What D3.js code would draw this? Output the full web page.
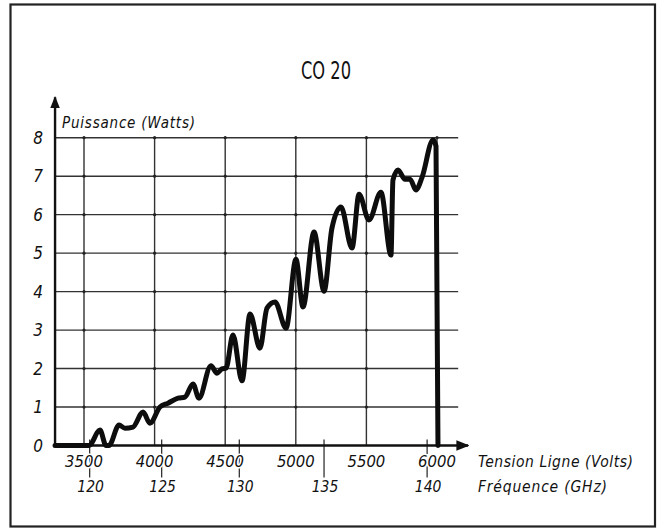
<!DOCTYPE html>
<html>
<head>
<meta charset="utf-8">
<script src="https://cdn.jsdelivr.net/npm/d3@7"></script>
<style>
  body { margin: 0; background: #fff; }
  text { font-family: "DejaVu Sans Condensed", "DejaVu Sans", "Liberation Sans", sans-serif; fill: #111; }
  .lab { font-style: italic; }
</style>
</head>
<body>
<script>
const w = 664;
const h = 530;

// data
const title = "CO 20";
const voltTicks = [3500, 4000, 4500, 5000, 5500, 6000];
const powerTicks = [0, 1, 2, 3, 4, 5, 6, 7, 8];
const freqLabels = [120, 125, 130, 135, 140];
const freqVolts = [3540, 4050, 4600, 5200, 5930]; // where each frequency sits on the volts axis
const curveVolts = [3295, 3535, 3613, 3656, 3677, 3748, 3790, 3847, 3918, 3967,
  4038, 4095, 4166, 4215, 4272, 4314, 4399, 4442, 4477, 4506,
  4555, 4619, 4676, 4746, 4796, 4853, 4931, 5001, 5051, 5129,
  5200, 5256, 5320, 5398, 5448, 5518, 5603, 5674, 5688, 5724,
  5773, 5809, 5851, 5894, 5972, 5993, 6007];
const curvePower = [0, 0, 0.40, 0, 0, 0.53, 0.45, 0.48, 0.87, 0.58,
  1.0, 1.1, 1.23, 1.26, 1.6, 1.23, 2.07, 1.88, 1.99, 2.01,
  2.87, 1.68, 3.42, 2.53, 3.57, 3.73, 3.05, 4.84, 3.6, 5.55,
  4.01, 5.65, 6.2, 5.13, 6.53, 5.86, 6.58, 4.95, 6.9, 7.16,
  6.92, 6.92, 6.64, 6.97, 7.94, 7.78, 0];

const svg = d3
  .select("body")
  .append("svg")
  .attr("width", w)
  .attr("height", h);

// frame
svg
  .append("rect")
  .attr("x", 10.5)
  .attr("y", 4.5)
  .attr("width", 644.5)
  .attr("height", 522)
  .attr("fill", "none")
  .attr("stroke", "#222")
  .attr("stroke-width", 2.2);

const x = d3.scaleLinear().domain([3500, 6000]).range([84, 437]);
const y = d3.scaleLinear().domain([0, 8]).range([445.5, 137.7]);
const xStart = 3295;
const xGridEnd = 6150;
const xArrowEnd = 6220;
const yArrowEnd = 9.05;

// grid
const grid = svg.append("g").attr("stroke", "#333").attr("stroke-width", 1.4);
grid
  .selectAll("line.h")
  .data(powerTicks.slice(1))
  .enter()
  .append("line")
  .attr("x1", x(xStart))
  .attr("x2", x(xGridEnd))
  .attr("y1", (d) => y(d))
  .attr("y2", (d) => y(d));
grid
  .selectAll("line.v")
  .data(voltTicks)
  .enter()
  .append("line")
  .attr("x1", (d) => x(d))
  .attr("x2", (d) => x(d))
  .attr("y1", y(0))
  .attr("y2", y(8));

// little dots where grid lines cross
const crossings = [];
voltTicks.forEach((v) => powerTicks.slice(1).forEach((p) => crossings.push([v, p])));
svg
  .append("g")
  .selectAll("circle")
  .data(crossings)
  .enter()
  .append("circle")
  .attr("cx", (d) => x(d[0]))
  .attr("cy", (d) => y(d[1]))
  .attr("r", 1.6)
  .attr("fill", "#222");

// frequency ticks
svg
  .append("g")
  .selectAll("line")
  .data(freqVolts)
  .enter()
  .append("line")
  .attr("x1", (d) => x(d))
  .attr("x2", (d) => x(d))
  .attr("y1", y(0) - 6)
  .attr("y2", y(0) + 32)
  .attr("stroke", "#333")
  .attr("stroke-width", 1.3);

// axes with arrows
svg
  .append("defs")
  .append("marker")
  .attr("id", "arrow")
  .attr("viewBox", "0 0 10 10")
  .attr("refX", 9)
  .attr("refY", 5)
  .attr("markerWidth", 5)
  .attr("markerHeight", 5)
  .attr("markerUnits", "strokeWidth")
  .attr("orient", "auto")
  .append("path")
  .attr("d", "M0,1 L10,5 L0,9 Z")
  .attr("fill", "#111");

svg
  .append("line")
  .attr("x1", x(xStart))
  .attr("x2", x(xArrowEnd))
  .attr("y1", y(0))
  .attr("y2", y(0))
  .attr("stroke", "#111")
  .attr("stroke-width", 2.6)
  .attr("marker-end", "url(#arrow)");
svg
  .append("line")
  .attr("x1", x(xStart))
  .attr("x2", x(xStart))
  .attr("y1", y(0) + 1)
  .attr("y2", y(yArrowEnd))
  .attr("stroke", "#111")
  .attr("stroke-width", 2.4)
  .attr("marker-end", "url(#arrow)");

// the power curve
const line = d3
  .line()
  .x((d, i) => x(curveVolts[i]))
  .y((d) => y(d))
  .curve(d3.curveMonotoneX);
svg
  .append("path")
  .attr("d", line(curvePower))
  .attr("fill", "none")
  .attr("stroke", "#0d0d0d")
  .attr("stroke-width", 5)
  .attr("stroke-linejoin", "round")
  .attr("stroke-linecap", "round");

// labels
svg
  .selectAll("text.ylab")
  .data(powerTicks)
  .enter()
  .append("text")
  .attr("class", "lab")
  .attr("x", 38)
  .attr("y", (d) => y(d) + 6)
  .attr("text-anchor", "middle")
  .attr("font-size", 17)
  .text((d) => d);

svg
  .selectAll("text.xlab")
  .data(voltTicks)
  .enter()
  .append("text")
  .attr("class", "lab")
  .attr("x", (d) => x(d))
  .attr("y", 467)
  .attr("text-anchor", "middle")
  .attr("font-size", 16.5)
  .attr("stroke", "#fff")
  .attr("stroke-width", 3)
  .attr("paint-order", "stroke")
  .text((d) => d);

svg
  .selectAll("text.flab")
  .data(freqLabels)
  .enter()
  .append("text")
  .attr("class", "lab")
  .attr("x", (d, i) => x(freqVolts[i]) + 1)
  .attr("y", 492)
  .attr("text-anchor", "middle")
  .attr("font-size", 15.5)
  .text((d) => d);

svg
  .append("text")
  .attr("class", "lab")
  .attr("x", 478)
  .attr("y", 467)
  .attr("font-size", 15.5)
  .attr("textLength", 155)
  .attr("lengthAdjust", "spacing")
  .text("Tension Ligne (Volts)");
svg
  .append("text")
  .attr("class", "lab")
  .attr("x", 478)
  .attr("y", 492)
  .attr("font-size", 15.5)
  .attr("textLength", 129)
  .attr("lengthAdjust", "spacing")
  .text("Fréquence (GHz)");
svg
  .append("text")
  .attr("class", "lab")
  .attr("x", 62)
  .attr("y", 128)
  .attr("font-size", 15)
  .attr("textLength", 133)
  .attr("lengthAdjust", "spacing")
  .text("Puissance (Watts)");

svg
  .append("text")
  .attr("x", 326)
  .attr("y", 79)
  .attr("text-anchor", "middle")
  .attr("font-size", 24)
  .attr("textLength", 50)
  .attr("lengthAdjust", "spacingAndGlyphs")
  .text(title);
</script>
</body>
</html>
